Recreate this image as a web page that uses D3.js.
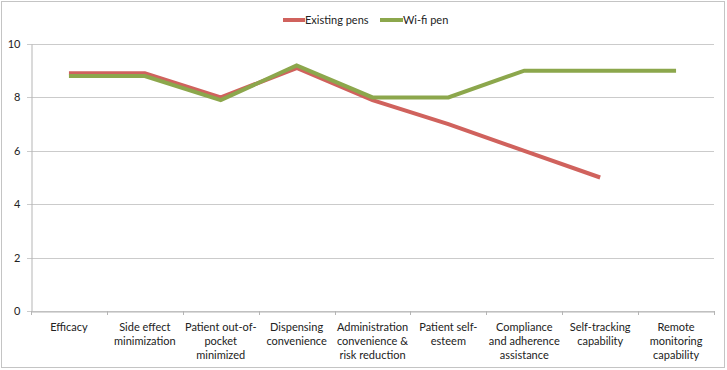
<!DOCTYPE html>
<html>
<head>
<meta charset="utf-8">
<script src="https://cdn.jsdelivr.net/npm/d3@7"></script>
<style>
  html, body { margin: 0; padding: 0; background: #fff; }
  svg { display: block; font-family: Lato, "Open Sans", sans-serif; }
</style>
</head>
<body>
<svg id="chart" width="727" height="370"></svg>
<script>
// Category labels, already broken into lines as in the picture
const categoryLines = [
  ['Efficacy'],
  ['Side effect', 'minimization'],
  ['Patient out-of-', 'pocket', 'minimized'],
  ['Dispensing', 'convenience'],
  ['Administration', 'convenience &', 'risk reduction'],
  ['Patient self-', 'esteem'],
  ['Compliance', 'and adherence', 'assistance'],
  ['Self-tracking', 'capability'],
  ['Remote', 'monitoring', 'capability'],
];
const categories = categoryLines.map(l => l.join(' '));

// Scores (null = no value for that category)
const existingPens = [8.9, 8.9, 8.0, 9.1, 7.9, 7.0, 6.0, 5.0, null];
const wifiPen      = [8.8, 8.8, 7.9, 9.2, 8.0, 8.0, 9.0, 9.0, 9.0];

const yTicks = [0, 2, 4, 6, 8, 10];

const series = [
  { name: 'Existing pens', values: existingPens, color: '#d0625d' },
  { name: 'Wi-fi pen',     values: wifiPen,      color: '#8ca74c' },
];

const svg = d3.select('#chart');

// outer frame
svg.append('rect')
  .attr('x', 1.5).attr('y', 1.5)
  .attr('width', 723).attr('height', 366)
  .attr('fill', '#fff')
  .attr('stroke', '#c4c4c4')
  .attr('stroke-width', 1);

const x = d3.scaleBand().domain(categories).range([31, 714]);
const y = d3.scaleLinear().domain([0, 10]).range([311, 44]);

// gridlines
svg.append('g')
  .selectAll('line')
  .data(yTicks)
  .join('line')
  .attr('x1', 27).attr('x2', 714)
  .attr('y1', d => Math.round(y(d)) + 0.5)
  .attr('y2', d => Math.round(y(d)) + 0.5)
  .attr('stroke', '#cbcbcb')
  .attr('stroke-width', 1.2);

// y axis
const yAxis = svg.append('g')
  .attr('transform', 'translate(31.5,0)')
  .call(d3.axisLeft(y).tickValues(yTicks).tickSize(0).tickPadding(11));
yAxis.select('.domain').attr('stroke', '#b5b5b5');
yAxis.selectAll('.tick text')
  .attr('font-size', 11)
  .attr('font-family', 'Lato, "Open Sans", sans-serif')
  .attr('fill', '#222');

// x axis
const xAxis = svg.append('g')
  .attr('transform', `translate(0,${Math.round(y(0)) + 0.5})`)
  .call(d3.axisBottom(x).tickSize(0).tickFormat(''));
xAxis.select('.domain').attr('stroke', '#b5b5b5');

// tick marks on category boundaries
const bounds = categories.map(c => x(c)).concat([x.range()[1]]);
svg.append('g')
  .selectAll('line')
  .data(bounds)
  .join('line')
  .attr('x1', d => Math.round(d) + 0.5)
  .attr('x2', d => Math.round(d) + 0.5)
  .attr('y1', Math.round(y(0)))
  .attr('y2', Math.round(y(0)) + 4)
  .attr('stroke', '#b5b5b5');

// category labels
const labels = svg.append('g')
  .attr('font-size', 11)
  .attr('fill', '#222')
  .attr('text-anchor', 'middle');
categoryLines.forEach((lines, i) => {
  const t = labels.append('text')
    .attr('x', x(categories[i]) + x.bandwidth() / 2)
    .attr('y', 331);
  lines.forEach((ln, j) => {
    t.append('tspan')
      .attr('x', x(categories[i]) + x.bandwidth() / 2)
      .attr('dy', j === 0 ? 0 : 14)
      .text(ln);
  });
});

// lines
const line = d3.line()
  .defined(d => d.v != null)
  .x(d => x(d.c) + x.bandwidth() / 2)
  .y(d => y(d.v));

series.forEach(s => {
  svg.append('path')
    .datum(s.values.map((v, i) => ({ c: categories[i], v })))
    .attr('d', line)
    .attr('fill', 'none')
    .attr('stroke', s.color)
    .attr('stroke-width', 4)
    .attr('stroke-linejoin', 'miter');
});

// legend
const legendItems = [
  { x: 283, w: 22, tx: 305 },
  { x: 380, w: 23, tx: 403 },
];
series.forEach((s, i) => {
  const li = legendItems[i];
  svg.append('line')
    .attr('x1', li.x).attr('x2', li.x + li.w)
    .attr('y1', 20).attr('y2', 20)
    .attr('stroke', s.color)
    .attr('stroke-width', 4);
  svg.append('text')
    .attr('x', li.tx).attr('y', 24)
    .attr('font-size', 11)
    .attr('fill', '#222')
    .text(s.name);
});
</script>
</body>
</html>
